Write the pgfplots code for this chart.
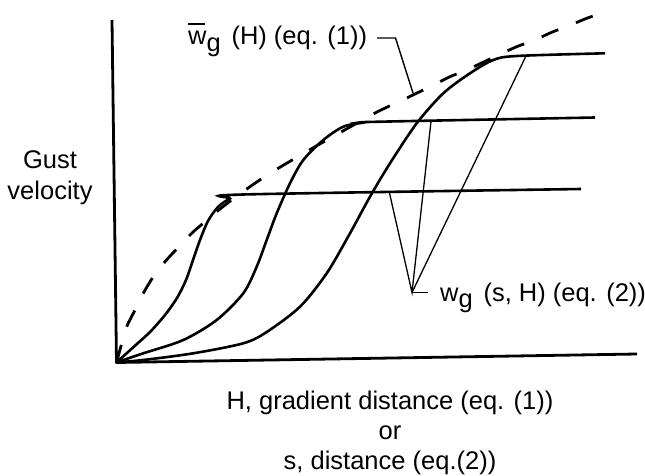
\documentclass[border=0pt]{standalone}
\usepackage{pgfplots}
\pgfplotsset{compat=1.18}
\usepackage{fontspec}
\setmainfont{Liberation Sans}
\newcommand{\wbar}{\leavevmode\rlap{\raisebox{0.8em}{\rule{0.64em}{0.08em}}}w}
\newcommand{\sub}[1]{\raisebox{-0.27em}{#1}}
\begin{document}
\begin{tikzpicture}
\begin{axis}[
  width=645bp, height=476bp, scale only axis,
  xmin=0, xmax=645, ymin=0, ymax=476,
  y dir=reverse,
  hide axis, clip=false,
  font=\fontsize{25.5bp}{30bp}\selectfont,
]
% axes
\addplot[black, line width=2.8bp, line join=round] coordinates {(112,20) (116.5,362.5) (637,354)};
% dashed envelope  w_g bar (H)
\addplot[black, line width=2.8bp, smooth, tension=0.5, dash pattern=on 18bp off 19bp] coordinates {
(116.7,362.3) (121,346) (126.7,326.7) (135,310) (143.3,293.3) (153.3,276.7) (165,261.7)
(178.3,247.3) (191.7,233.3) (205,221.7) (220,209) (235,197.5) (250,186.7) (265,176.5)
(282,166) (300,155.5) (318,145) (335,135.5) (350,127) (365,118.5) (380,110.5)
(396.7,102.7) (415,94) (430,86.7) (450,76.7) (466.7,70) (490,59) (516.7,46.7)
(533.3,40.7) (551.7,32.3) (568.3,26) (586.7,18.3) (603.3,12.7)};
% curve 1
\addplot[black, line width=2.6bp, smooth, tension=0.5] coordinates {
(116.7,362.3) (133,347.5) (150,332) (165,315) (177,298) (186,280) (193,260) (200,240)
(208,221) (218,207) (230,198.5) (243,194.5) (581,189)};
% curve 2
\addplot[black, line width=2.6bp, smooth, tension=0.5] coordinates {
(116.7,362.3) (143.3,353.3) (183.3,340) (216.7,320) (243.3,293.3) (256.7,266.7)
(266.7,240) (276.7,213.3) (290,183.3) (303.3,160) (323.3,140) (343.3,126.7)
(363.3,122.7) (380,121.7) (595,117.5)};
% curve 3
\addplot[black, line width=2.6bp, smooth, tension=0.5] coordinates {
(116.7,362.3) (143.3,360) (193.3,353.3) (243.3,343.3) (266.7,332) (300,306.7)
(326.7,273.3) (350,233.3) (370,196.7) (390,163.3) (416.7,123.3) (443.3,93.3)
(470,73.3) (493.3,60) (516.7,56) (605,53.3)};
% pointer lines for w_g(s,H)
\addplot[black, line width=1.3bp, line join=miter] coordinates {(389.5,193) (412,292.5) (431,121.5)};
\addplot[black, line width=1.3bp] coordinates {(412,292.5) (525.5,57)};
\addplot[black, line width=1.3bp] coordinates {(412,292.5) (428,292.5)};
% leader for w_g bar
\addplot[black, line width=1.4bp, line join=miter] coordinates {(377,38) (395.5,38) (413,93)};
% labels
\node[anchor=base west, inner sep=0pt] at (axis cs:188,45) {\wbar\sub{g}\hspace{0.42em}(H) (eq. (1))};
\node[anchor=base west, inner sep=0pt] at (axis cs:440,301) {w\sub{g}\hspace{0.42em}(s, H) (eq. (2))};
\node[anchor=base, inner sep=0pt] at (axis cs:50,168) {Gust};
\node[anchor=base, inner sep=0pt] at (axis cs:50,199) {velocity};
\node[anchor=base, inner sep=0pt] at (axis cs:390,409) {H, gradient distance (eq. (1))};
\node[anchor=base, inner sep=0pt] at (axis cs:390,439) {or};
\node[anchor=base, inner sep=0pt] at (axis cs:390,469) {s, distance (eq.(2))};
\coordinate (bl) at (axis cs:0,476);
\coordinate (tr) at (axis cs:645,0);
\end{axis}
\pgfresetboundingbox
\path (bl) rectangle (tr);
\end{tikzpicture}
\end{document}
